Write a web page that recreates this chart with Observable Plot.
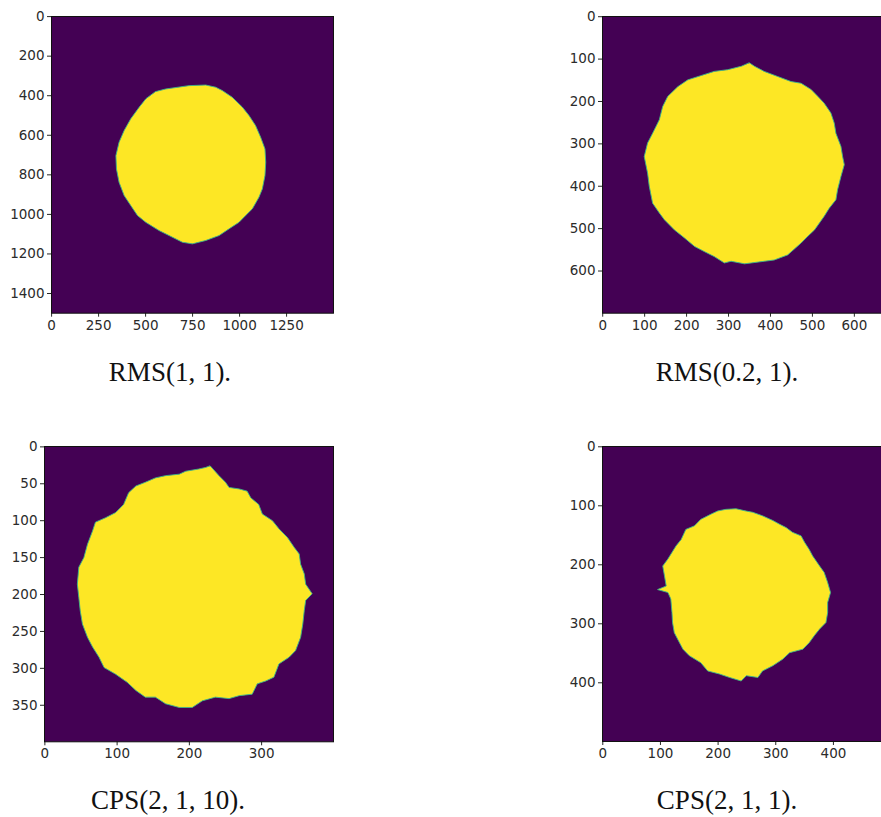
<!DOCTYPE html>
<html>
<head>
<meta charset="utf-8">
<script src="https://cdn.jsdelivr.net/npm/d3@7"></script>
<script src="https://cdn.jsdelivr.net/npm/@observablehq/plot@0.6"></script>
<style>
  html, body { margin: 0; padding: 0; background: #fff; }
  #root { position: relative; width: 881px; height: 817px; overflow: hidden; background: #fff; }
  .panel { position: absolute; }
  .cap { position: absolute; width: 300px; text-align: center; font-family: "Liberation Serif", "DejaVu Serif", serif;
         font-size: 27px; line-height: 27px; color: #111; white-space: nowrap; }
</style>
</head>
<body>
<div id="root"></div>
<script>
// ---- Panel titles (captions) ----
const captions = ["RMS(1, 1).", "RMS(0.2, 1).", "CPS(2, 1, 10).", "CPS(2, 1, 1)."];

// ---- Image sizes (pixels of each simulated field) ----
const sizeX = [1500, 700, 400, 500];
const sizeY = [1500, 700, 400, 500];

// ---- Tick labels ----
const xTicks1 = [0, 250, 500, 750, 1000, 1250];
const yTicks1 = [0, 200, 400, 600, 800, 1000, 1200, 1400];
const xTicks2 = [0, 100, 200, 300, 400, 500, 600];
const yTicks2 = [0, 100, 200, 300, 400, 500, 600];
const xTicks3 = [0, 100, 200, 300];
const yTicks3 = [0, 50, 100, 150, 200, 250, 300, 350];
const xTicks4 = [0, 100, 200, 300, 400];
const yTicks4 = [0, 100, 200, 300, 400];

// ---- Cluster boundaries (x column, y row) ----
const blob1X = [554,607,731,820,873,908,961,1015,1050,1085,1112,1135,1139,1135,1121,1103,1068,1032,997,944,891,820,749,696,625,572,501,457,421,386,359,345,342,359,386,421,466,501];
const blob1Y = [379,366,349,346,357,374,408,458,500,551,610,669,736,804,871,913,972,1006,1040,1073,1107,1132,1149,1141,1107,1082,1040,1006,955,905,838,770,703,635,576,517,458,416];

const blob2X = [350,362,385,417,449,473,497,513,528,544,552,556,568,572,576,568,560,556,540,528,505,489,473,441,409,385,354,338,306,290,266,242,219,195,171,147,135,119,111,107,99,107,119,135,143,155,179,203,234,266,298,330];
const blob2Y = [109,117,129,141,153,157,172,188,204,227,251,275,306,330,349,377,408,432,452,471,503,518,534,562,574,577,581,583,577,581,566,554,542,522,503,479,463,440,400,369,330,298,275,243,212,188,165,149,139,129,125,117];

const blob3X = [229,241,250,255,269,280,285,296,301,315,324,336,345,352,354,359,361,370,361,359,357,354,347,338,324,317,306,294,287,269,255,236,218,204,186,167,153,139,126,114,98,82,75,66,59,52,49,47,45,47,54,59,66,70,84,98,109,116,126,139,153,167,186,195,213,222];
const blob3Y = [26,39,48,55,57,60,69,78,91,100,111,123,136,145,159,172,186,199,208,222,240,258,276,285,294,312,317,321,335,337,341,339,344,353,353,348,339,339,330,319,308,299,285,271,258,240,222,204,186,163,150,132,114,102,96,89,78,62,53,48,42,39,37,33,30,28];

const blob4X = [214,231,249,260,277,295,306,318,329,344,350,358,364,376,384,390,395,390,390,387,376,367,358,347,324,312,295,277,269,249,240,220,202,182,170,150,139,133,124,121,120,118,113,95,110,107,104,113,127,136,144,159,170,188,199];
const blob4Y = [106,105,109,111,117,125,131,137,145,151,162,174,185,202,213,230,247,264,281,298,309,320,332,343,349,360,371,380,391,388,397,391,385,380,366,354,343,332,315,298,281,258,247,242,236,219,202,190,168,157,140,134,123,114,109];

// ---- Frame rectangles of each subplot on the page (layout) ----
const frames = [
  {x0: 51,    x1: 333,   y0: 16,  y1: 312.7},
  {x0: 601.7, x1: 895.3, y0: 16,  y1: 312.7},
  {x0: 44.3,  x1: 333.3, y0: 446, y1: 741.3},
  {x0: 601.7, x1: 890,   y0: 446, y1: 741}
];
const capPos = [{cx: 170, base: 381.7}, {cx: 727, base: 381.7}, {cx: 168, base: 810}, {cx: 727, base: 810}];

const blobsX = [blob1X, blob2X, blob3X, blob4X];
const blobsY = [blob1Y, blob2Y, blob3Y, blob4Y];
const xTicks = [xTicks1, xTicks2, xTicks3, xTicks4];
const yTicks = [yTicks1, yTicks2, yTicks3, yTicks4];

const root = document.getElementById("root");
const ML = 55, MT = 10, MR = 5, MB = 30;
const fmt = d => String(d);

for (let i = 0; i < 4; i++) {
  const f = frames[i];
  const pts = blobsX[i].map((x, k) => ({x, y: blobsY[i][k]}));
  const chart = Plot.plot({
    width: ML + (f.x1 - f.x0) + MR,
    height: MT + (f.y1 - f.y0) + MB,
    marginLeft: ML, marginTop: MT, marginRight: MR, marginBottom: MB,
    style: {fontFamily: "DejaVu Sans", fontSize: "13.5px", color: "#2b2b2b", background: "transparent", overflow: "visible"},
    x: {domain: [-0.5, sizeX[i] - 0.5]},
    y: {domain: [-0.5, sizeY[i] - 0.5], reverse: true},
    marks: [
      Plot.frame({fill: "#440154", stroke: null}),
      Plot.line(pts, {x: "x", y: "y", curve: "linear-closed", fill: "#fde725", stroke: "#3bb58a", strokeWidth: 0.9, strokeLinejoin: "round"}),
      Plot.axisX({ticks: xTicks[i], tickFormat: fmt, tickSize: 4, tickPadding: 3, label: null, anchor: "bottom", stroke: "#262626"}),
      Plot.axisY({ticks: yTicks[i], tickFormat: fmt, tickSize: 4, tickPadding: 3, label: null, anchor: "left", stroke: "#262626"}),
      Plot.frame({stroke: "#111", strokeWidth: 1})
    ]
  });
  chart.classList.add("panel");
  chart.style.left = (f.x0 - ML) + "px";
  chart.style.top = (f.y0 - MT) + "px";
  root.appendChild(chart);

  const cap = document.createElement("div");
  cap.className = "cap";
  cap.textContent = captions[i];
  cap.style.left = (capPos[i].cx - 150) + "px";
  cap.style.top = (capPos[i].base - 22.6) + "px";
  root.appendChild(cap);
}
</script>
</body>
</html>
